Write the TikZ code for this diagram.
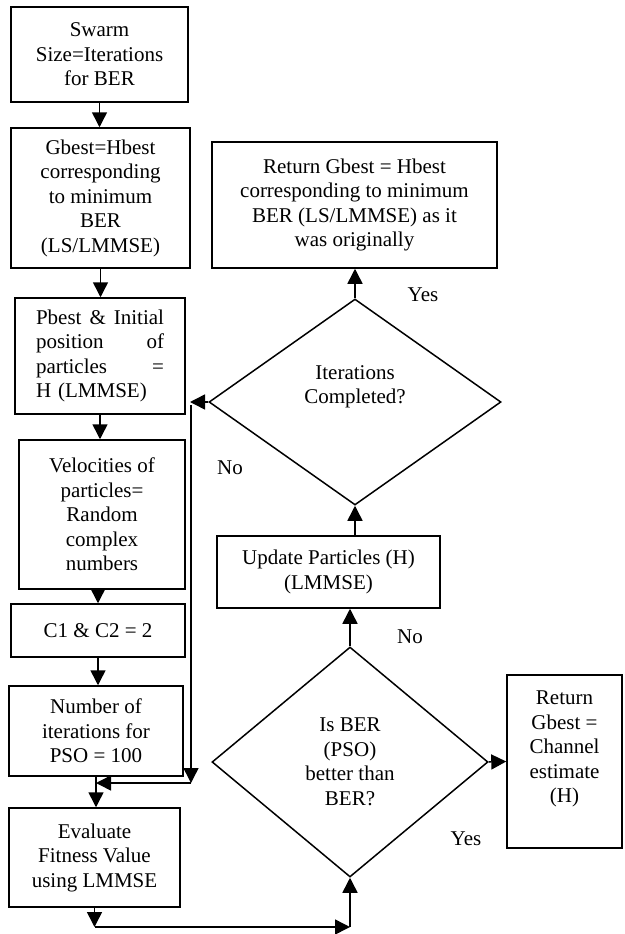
\documentclass[tikz,border=0pt]{standalone}
\usepackage{fontspec}
\setmainfont{Liberation Serif}
\usetikzlibrary{shapes.geometric,arrows.meta}
\begin{document}
\begin{tikzpicture}[x=1pt,y=-1pt,
 box/.style={draw,line width=1.5pt,rectangle,align=center,inner sep=0pt},
 dia/.style={draw,line width=1.5pt,diamond,inner sep=0pt,align=center},
 txt/.style={align=center,inner sep=0pt},
 arr/.style={line width=1.5pt,-{Triangle[length=15pt,width=15pt]}},
 every node/.append style={font=\fontsize{21}{24.5}\selectfont}]
\fill[white] (0,0) rectangle (624,934);
\useasboundingbox (0,0) rectangle (624,934);
% left column
\node[box,minimum width=177pt,minimum height=95pt] (sw) at (99.5,54.5) {Swarm\\Size=Iterations\\for BER};
\node[box,minimum width=179pt,minimum height=140pt] (gb) at (100.5,198) {Gbest=Hbest\\corresponding\\to minimum\\BER\\(LS/LMMSE)};
\node[box,minimum width=170pt,minimum height=116pt,text width=128pt,align=left] (pb) at (100,356) {Pbest\hfill\&\hfill Initial\\position\hfill of\\particles\hfill =\\H (LMMSE)};
\node[box,minimum width=166pt,minimum height=149pt] (vel) at (102,514.5) {Velocities of\\particles=\\Random\\complex\\numbers};
\node[box,minimum width=174pt,minimum height=53pt] (c1) at (98,630.5) {C1 \& C2 = 2};
\node[box,minimum width=174pt,minimum height=90pt] (num) at (96,731) {Number of\\iterations for\\PSO = 100};
\node[box,minimum width=171pt,minimum height=99pt] (ev) at (94.5,857.5) {Evaluate\\Fitness Value\\using LMMSE};
% right part
\node[box,minimum width=285pt,minimum height=126pt] (ret) at (354.5,205) {Return Gbest = Hbest\\corresponding to minimum\\BER (LS/LMMSE) as it\\was originally};
\node[dia,minimum width=292pt,minimum height=206pt] (d1) at (355,402) {};
\node[txt] (d1t) at (355,387) {Iterations\\Completed?};
\node[box,minimum width=223pt,minimum height=72pt] (up) at (328.5,572) {Update Particles (H)\\(LMMSE)};
\node[dia,minimum width=276pt,minimum height=230pt] (d2) at (350,762) {Is BER\\(PSO)\\better than\\BER?};
\node[box,minimum width=115pt,minimum height=173pt] (ch) at (564.5,761.5) {};
\node[txt] (cht) at (564.5,749) {Return\\Gbest =\\Channel\\estimate\\(H)};
% labels
\node[txt] (yes1) at (423,295) {Yes};
\node[txt] (no1) at (230,468) {No};
\node[txt] (no2) at (410,637) {No};
\node[txt] (yes2) at (466,839) {Yes};
% left column arrows
\draw[arr] (sw.south) -- (sw.south |- gb.north);
\draw[arr] (gb.south) -- (gb.south |- pb.north);
\draw[arr] (pb.south) -- (pb.south |- vel.north);
\draw[arr] (c1.north |- vel.south) -- (c1.north);
\draw[arr] (c1.south) -- (c1.south |- num.north);
\draw[arr] (num.south) -- (num.south |- ev.north);
% feedback loop
\coordinate (fa) at (190,402);
\coordinate (fv) at (191,405);
\coordinate (fb) at (191,783);
\draw[arr] (d1.west) -- (fa);
\draw[arr] (fv) -- (fb);
\draw[arr] (fb) -- (num.south |- fb);
% bottom path
\coordinate (b1) at (94.5,927);
\coordinate (b2) at (d2.south |- b1);
\draw[arr] (ev.south) -- (b1);
\draw[arr] (b1) -- (b2);
\draw[arr] (b2) -- (d2.south);
% right column arrows
\draw[arr] (d2.north) -- (d2.north |- up.south);
\draw[arr] (d1.south |- up.north) -- (d1.south);
\draw[arr] (d1.north) -- (d1.north |- ret.south);
\draw[arr] (d2.east) -- (ch.west);
\end{tikzpicture}
\end{document}
